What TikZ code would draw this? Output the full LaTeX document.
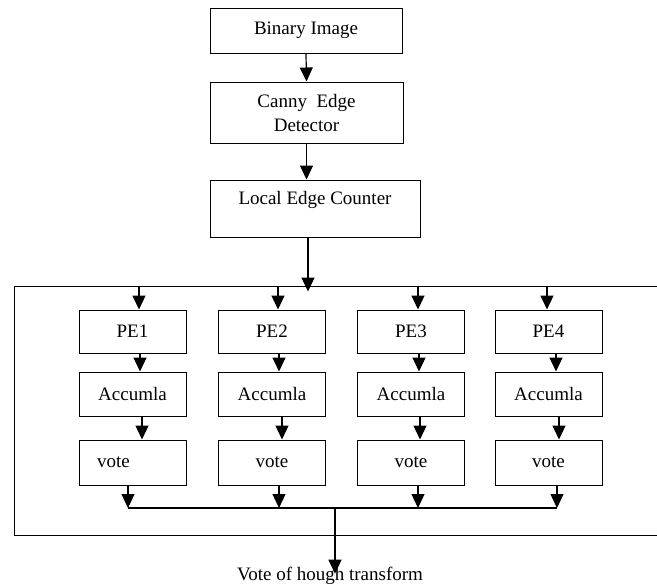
\documentclass[tikz,border=0pt]{standalone}
\usepackage{fontspec}
\setmainfont{Liberation Serif}
\usetikzlibrary{arrows.meta}

\begin{document}
\begin{tikzpicture}[x=1pt,y=-1pt,
		every node/.style={font=\fontsize{19}{24}\selectfont},
		box/.style={draw,line width=1pt,inner sep=0pt,align=center},
		flow/.style={line width=1.2pt,-{Triangle[width=13pt,length=14pt]}}]
		\useasboundingbox (0,0) rectangle (657,584);
		\clip (0,0) rectangle (657,584);
		%front end
		\node[box,minimum width=192pt,minimum height=45pt] (bin) at (306,30.5) {Binary Image};
		\node[box,minimum width=193pt,minimum height=61pt] (canny) at (306.5,112.5) {Canny~~Edge\\Detector};
		\node[box,minimum width=210pt,minimum height=57pt,text depth=21pt] (lec) at (315,208.5) {Local Edge Counter};
		\draw[flow] (bin.south) -- (canny.north);
		\draw[flow] (canny.south) -- (canny.south |- lec.north);
		
		%processing elements
		\node[draw,line width=1pt,inner sep=0pt,minimum width=660pt,minimum height=249pt] (bank) at (344,410.5) {};
		\draw[flow,shorten >=-6pt] ([xshift=1.5pt]canny.south |- lec.south) -- ([xshift=1.5pt]canny.south |- bank.north);
		\coordinate (join) at (335,508);
		\foreach \i/\x/\a/\b/\c/\d/\al in {1/132.5/6.5/7.5/9.5/-4.5/left, 2/272/6/7/10/7/center,
			3/411/7/8/9/7/center, 4/548.5/-1.5/7.5/10.5/8.5/center}{
			\node[box,minimum width=107pt,minimum height=43pt] (pe\i) at (\x,331.5) {PE\i};
			\node[box,minimum width=107pt,minimum height=44pt] (acc\i) at (\x,394) {Accumla};
			\node[box,minimum width=107pt,minimum height=45pt,text width=71pt,align=\al] (vote\i) at (\x,462.5) {vote};
			\draw[flow] ([xshift=\a pt]pe\i.north |- bank.north) -- ([xshift=\a pt]pe\i.north);
			\draw[flow] ([xshift=\b pt]pe\i.south) -- ([xshift=\b pt]acc\i.north);
			\draw[flow] ([xshift=\c pt]acc\i.south) -- ([xshift=\c pt]vote\i.north);
			\draw[flow] ([xshift=\d pt]vote\i.south) -- ([xshift=\d pt]vote\i.south |- join);
		}
		
		%output
		\draw[line width=1.2pt] ([xshift=-4.5pt]vote1.south |- join) -- ([xshift=8.5pt]vote4.south |- join);
		\node (result) at (330,576) {Vote of hough transform};
		\draw[flow] (join) -- ([yshift=-10pt]result.north -| join);
		
		\end{tikzpicture}
\end{document}
